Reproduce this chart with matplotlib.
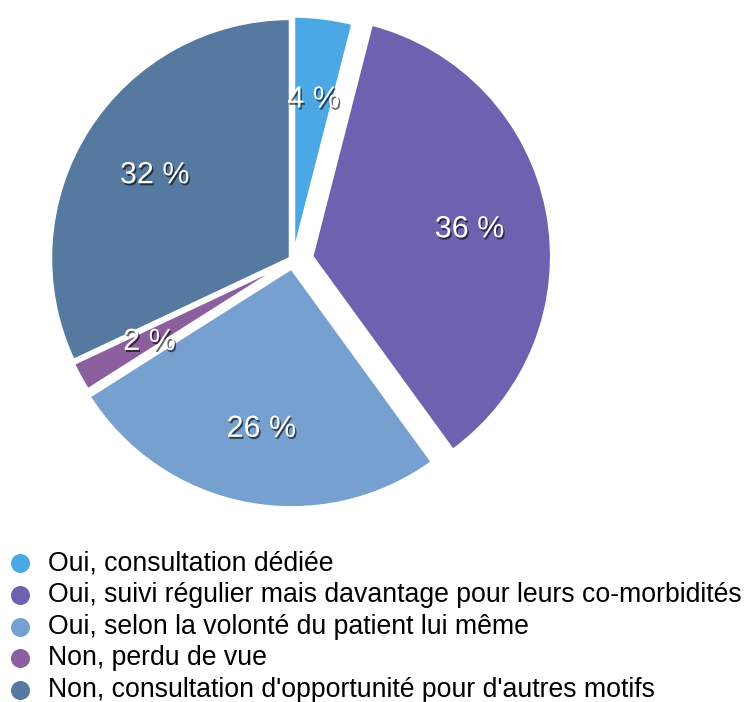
import numpy as np
import matplotlib
matplotlib.use("Agg")
import matplotlib.pyplot as plt
import matplotlib.patheffects as pe

labels = ["Oui, consultation dédiée",
          "Oui, suivi régulier mais davantage pour leurs co-morbidités",
          "Oui, selon la volonté du patient lui même",
          "Non, perdu de vue",
          "Non, consultation d'opportunité pour d'autres motifs"]
values = [4, 36, 26, 2, 32]
colors = ["#4BA8E4", "#6C62B0", "#75A0D0", "#8B5E9E", "#55799F"]

plt.rcParams['font.family'] = ['Liberation Sans', 'DejaVu Sans']

fig = plt.figure(figsize=(7.46, 7.02), dpi=100)
ax = fig.add_axes([0, 0, 1, 1])

# explode is in data units here (pixels)
explode = [4, 19, 8, 3, 3]
wedges, texts, autotexts = ax.pie(values, colors=colors, explode=explode,
                                  startangle=90, counterclock=False,
                                  center=(293, 702 - 260), radius=240,
                                  autopct=lambda p: "%d %%" % round(p),
                                  pctdistance=0.67,
                                  wedgeprops=dict(edgecolor="white", linewidth=2.5))
ax.set_xlim(0, 746)
ax.set_ylim(0, 702)
ax.set_aspect("equal")
ax.axis("off")

for t in autotexts:
    t.set_color("white")
    t.set_fontsize(22)
    x, y = t.get_position()
    t.set_position((x, y - 3))
    t.set_path_effects([pe.SimplePatchShadow(offset=(1, -1.5), shadow_rgbFace="black", alpha=0.6),
                        pe.Normal()])

# legend
for i, (lab, col) in enumerate(zip(labels, colors)):
    y = 702 - 563 - i * 31.8
    ax.scatter([20], [y], s=160, color=col, zorder=3)
    ax.text(48, y, lab, fontsize=19.2, va="center", ha="left", color="black")

fig.savefig("out.png", dpi=100)
